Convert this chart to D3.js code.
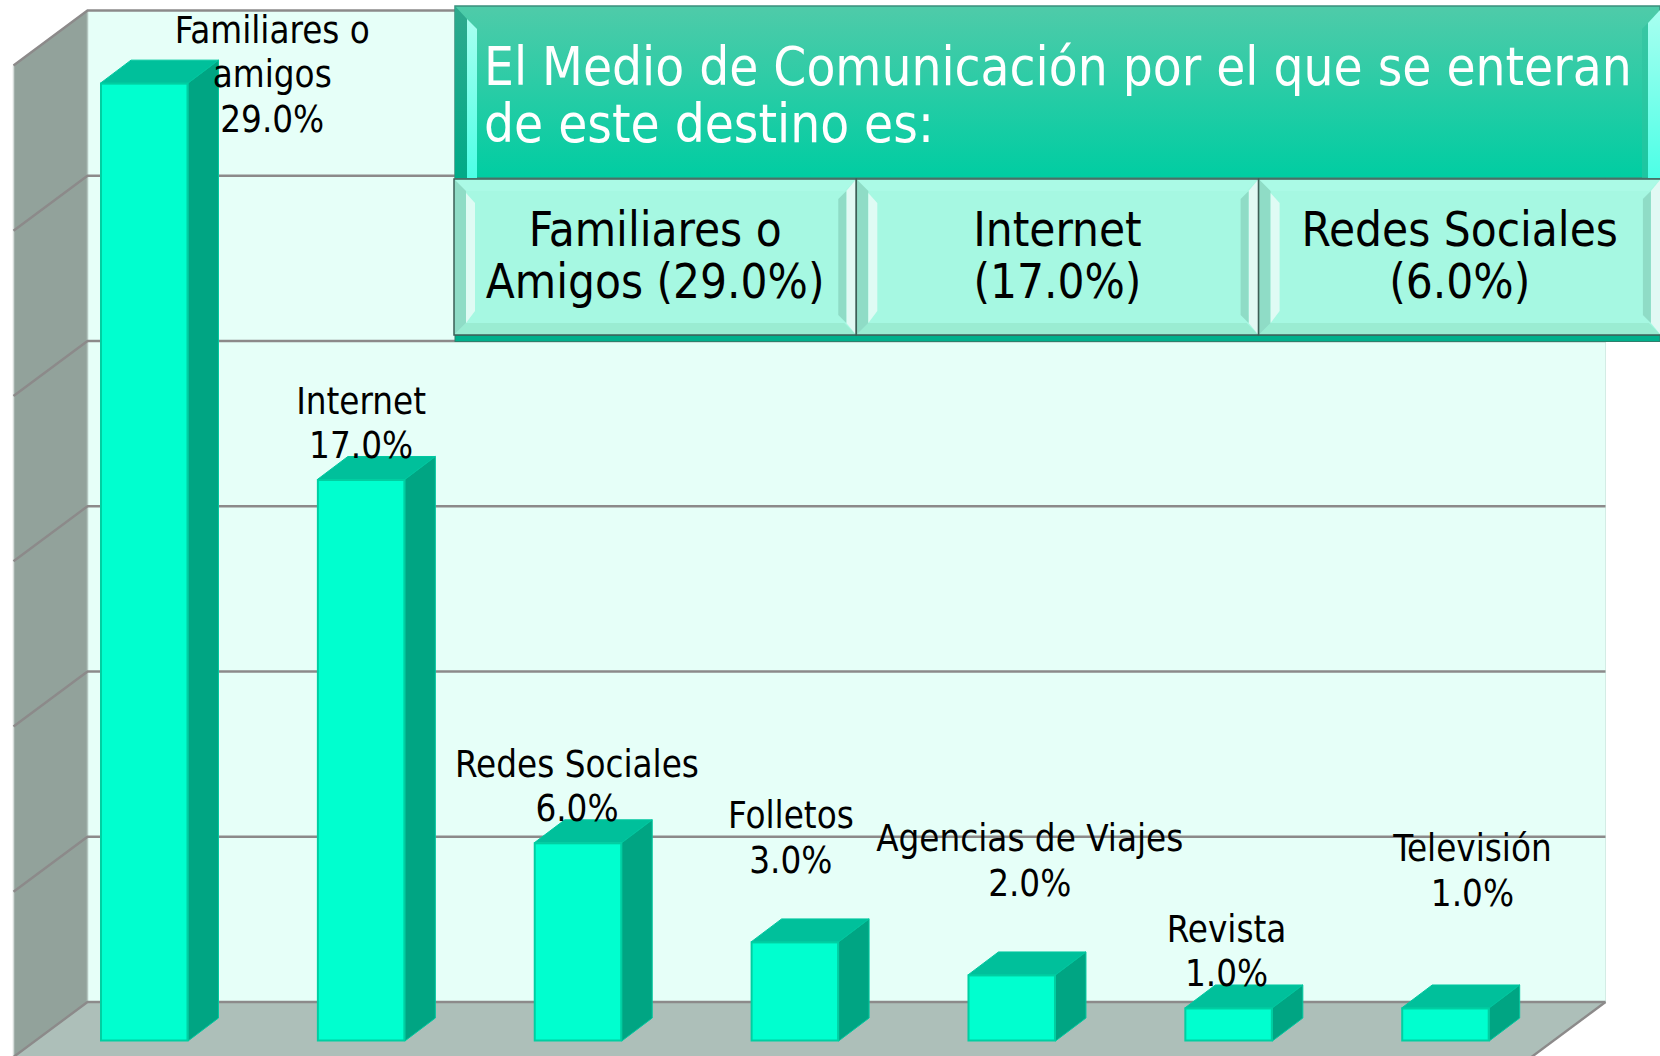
<!DOCTYPE html>
<html><head><meta charset="utf-8">
<script src="https://cdn.jsdelivr.net/npm/d3@7"></script>
<style>html,body{margin:0;padding:0;background:#fff;overflow:hidden}svg{display:block}
text{font-family:"DejaVu Sans",sans-serif;font-stretch:condensed}</style></head><body>
<script>
const categories=[["Familiares o","amigos"],["Internet"],["Redes Sociales"],["Folletos"],["Agencias de Viajes"],["Revista"],["Televisión"]];
const values=[29,17,6,3,2,1,1];
const gridTicks=[0,5,10,15,20,25,30];
const titleLines=["El Medio de Comunicación por el que se enteran","de este destino es:"];
const tableCells=[["Familiares o","Amigos (29.0%)"],["Internet","(17.0%)"],["Redes Sociales","(6.0%)"]];
// layout of the data labels relative to each bar
const labelDx=[128,0,-1,-4,18,-2,27];
const labelDy=[49,-21,-21.5,-69,-79,-21.5,-102];

const W=1660,H=1056;
const svg=d3.select("body").append("svg").attr("width",W).attr("height",H);
const defs=svg.append("defs");
const tg=defs.append("linearGradient").attr("id","tg").attr("x1",0).attr("y1",0).attr("x2",0).attr("y2",1);
tg.append("stop").attr("offset",0).attr("stop-color","#4fcba9");
tg.append("stop").attr("offset",1).attr("stop-color","#00cda2");
const lg=defs.append("linearGradient").attr("id","lg").attr("x1",0).attr("y1",0).attr("x2",0).attr("y2",1);
lg.append("stop").attr("offset",0).attr("stop-color","#a8fff0");
lg.append("stop").attr("offset",1).attr("stop-color","#4dffe6");
const dg=defs.append("linearGradient").attr("id","dg").attr("x1",0).attr("y1",0).attr("x2",0).attr("y2",1);
dg.append("stop").attr("offset",0).attr("stop-color","#2fa98e");
dg.append("stop").attr("offset",1).attr("stop-color","#00ab88");

const wallX0=87.5,wallX1=1605.5,depthX=-74,depthY=55;
const yWall=d3.scaleLinear().domain([0,30]).range([1002,10.5]);
const yBar=d3.scaleLinear().domain([0,30]).range([1041,50.1]);
const x=d3.scaleBand().domain(d3.range(values.length)).range([100.5,1489.2]).paddingInner(0.5966).paddingOuter(0);
const bw=x.bandwidth(),bdx=30.5,bdy=-23;
const pts=a=>a.map(p=>p.join(",")).join(" ");

// walls
svg.append("rect").attr("x",wallX0).attr("y",yWall(30)).attr("width",wallX1-wallX0).attr("height",yWall(0)-yWall(30)).attr("fill","#e6fff8").attr("stroke","#d4ece5").attr("stroke-width",1);
svg.append("polygon").attr("points",pts([[wallX0,yWall(30)],[wallX0+depthX,yWall(30)+depthY],[wallX0+depthX,H+2],[wallX0,yWall(0)]])).attr("fill","#92a29b");
svg.append("polygon").attr("points",pts([[wallX0,yWall(0)],[wallX1,yWall(0)],[wallX1+depthX,yWall(0)+depthY],[wallX0+depthX,yWall(0)+depthY]])).attr("fill","#adbfb9");
svg.append("line").attr("x1",wallX0).attr("x2",wallX0).attr("y1",yWall(30)).attr("y2",yWall(0)).attr("stroke","#b4c6c0").attr("stroke-width",1.5);
svg.append("line").attr("x1",wallX0+depthX).attr("x2",wallX0+depthX).attr("y1",yWall(30)+depthY).attr("y2",H).attr("stroke","#d5dcd9").attr("stroke-width",1.5);

// gridlines, through the library's ticks
const g=svg.append("g").attr("stroke","#8c8a8a").attr("stroke-width",2.4).attr("fill","none");
g.selectAll("path").data(gridTicks).join("path")
 .attr("d",t=>d3.line()([[wallX0+depthX,yWall(t)+depthY],[wallX0,yWall(t)],[wallX1,yWall(t)]]));
svg.append("line").attr("x1",wallX1).attr("y1",yWall(0)).attr("x2",wallX1+depthX).attr("y2",yWall(0)+depthY).attr("stroke","#8c8a8a").attr("stroke-width",2.4);

// bars
const bars=svg.append("g").selectAll("g").data(values).join("g");
bars.append("polygon").attr("points",(v,i)=>{const l=x(i),r=l+bw,t=yBar(v);return pts([[l,t],[l+bdx,t+bdy],[r+bdx,t+bdy],[r,t]])}).attr("fill","#00c09b").attr("stroke","#00c8a0").attr("stroke-width",1);
bars.append("polygon").attr("points",(v,i)=>{const r=x(i)+bw,t=yBar(v),b=yBar(0);return pts([[r,t],[r+bdx,t+bdy],[r+bdx,b+bdy],[r,b]])}).attr("fill","#00a583").attr("stroke","#00c8a0").attr("stroke-width",1);
bars.append("rect").attr("x",(v,i)=>x(i)+.5).attr("y",v=>yBar(v)+.5).attr("width",bw-1).attr("height",v=>yBar(0)-yBar(v)-1).attr("fill","#00ffcf").attr("stroke","#00cfa2").attr("stroke-width",2);

// data labels
const lh=44.8;
const lab=svg.append("g").attr("fill","#000").attr("font-size",36.4).attr("text-anchor","middle");
values.forEach((v,i)=>{
  const lines=[...categories[i],d3.format(".1f")(v)+"%"];
  const cx=x(i)+bw/2+labelDx[i],base=yBar(v)+labelDy[i];
  lines.forEach((s,j)=>lab.append("text").attr("x",cx).attr("y",base-(lines.length-1-j)*lh).text(s));
});

// title band
const TX=455,TY=6,TB=178;
svg.append("rect").attr("x",TX).attr("y",TY).attr("width",W-TX).attr("height",TB-TY).attr("fill","url(#tg)").attr("stroke","#3a8f7c").attr("stroke-width",1.5);
svg.append("polygon").attr("points",pts([[TX,TY],[467,19],[467,TB],[TX,TB]])).attr("fill","url(#dg)");
svg.append("polygon").attr("points",pts([[467,19],[477,29],[477,TB],[467,TB]])).attr("fill","url(#lg)");
svg.append("polygon").attr("points",pts([[1660,10],[1648,23],[1648,TB],[1660,TB]])).attr("fill","url(#lg)");
svg.append("polygon").attr("points",pts([[1648,23],[1642,29],[1642,TB],[1648,TB]])).attr("fill","#2fc3a0").attr("opacity",.6);
svg.append("g").attr("fill","#fff").attr("font-size",52.6).selectAll("text").data(titleLines).join("text").attr("x",484).attr("y",(d,i)=>84.5+i*57.5).text(d=>d);

// table row
svg.append("rect").attr("x",TX).attr("y",335).attr("width",W-TX).attr("height",6.5).attr("fill","#00b08c").attr("stroke","#2f7f6c").attr("stroke-width",1);
const cw=402.3,cx0=454,cy0=179,cb=335;
tableCells.forEach((c,i)=>{
  const l=cx0+i*cw,r=l+cw;
  const gc=svg.append("g");
  gc.append("rect").attr("x",l).attr("y",cy0).attr("width",cw).attr("height",cb-cy0).attr("fill","#a6f8e2");
  gc.append("polygon").attr("points",pts([[l,cy0],[r,cy0],[r-12,cy0+12],[l+12,cy0+12]])).attr("fill","#abfae6");
  gc.append("polygon").attr("points",pts([[l,cb],[r,cb],[r-12,cb-12],[l+12,cb-12]])).attr("fill","#9aecd2");
  gc.append("polygon").attr("points",pts([[l,cy0],[l+12,cy0+12],[l+12,cb-12],[l,cb]])).attr("fill","#8fdcc6");
  gc.append("polygon").attr("points",pts([[l+12,cy0+14],[l+21,cy0+24],[l+21,cb-24],[l+12,cb-12]])).attr("fill","#dffbf4");
  gc.append("polygon").attr("points",pts([[r,cy0],[r-10,cy0+12],[r-10,cb-12],[r,cb]])).attr("fill","#e2f9f4");
  gc.append("polygon").attr("points",pts([[r-10,cy0+12],[r-18,cy0+20],[r-18,cb-20],[r-10,cb-12]])).attr("fill","#8fdcc6");
  gc.append("rect").attr("x",l).attr("y",cy0).attr("width",cw).attr("height",cb-cy0).attr("fill","none").attr("stroke","#3d5f57").attr("stroke-width",1.5);
  gc.append("g").attr("fill","#000").attr("font-size",47.2).attr("text-anchor","middle").selectAll("text").data(c).join("text").attr("x",l+cw/2).attr("y",(d,j)=>246+j*52).text(d=>d);
});
</script></body></html>
